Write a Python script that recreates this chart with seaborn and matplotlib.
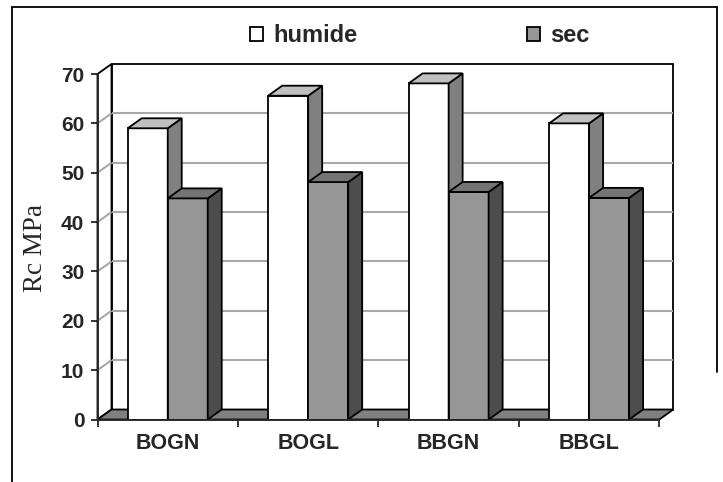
import numpy as np
import pandas as pd
import matplotlib
matplotlib.use("Agg")
import matplotlib.pyplot as plt
from matplotlib.patches import Polygon, Rectangle
from matplotlib.lines import Line2D
import seaborn as sns

# ---- data ----
categories = ["BOGN", "BOGL", "BBGN", "BBGL"]
humide = [59.0, 65.6, 68.1, 60.0]
sec = [44.8, 48.1, 46.1, 44.9]
series_names = ["humide", "sec"]
y_ticks = [0, 10, 20, 30, 40, 50, 60, 70]
y_label = "Rc MPa"

sns.set_style("white")
plt.rcParams["font.family"] = ["Liberation Sans", "DejaVu Sans"]

W, H = 723, 482
fig = plt.figure(figsize=(W / 100, H / 100), dpi=100)

# pixel layout
x0_px, x_front_right = 97.5, 659.3
dx_px, dy_px = 14.0, 10.0
y0_px, y70_px = 419.5, 74.0
left = x0_px / W
right = (x_front_right + dx_px) / W
bottom = (H - y0_px) / H
top = (H - (y70_px - dy_px)) / H
ax = fig.add_axes([left, bottom, right - left, top - bottom])

ymax = y_ticks[-1]
px_per_cat = (x_front_right - x0_px) / len(categories)
px_per_unit = (y0_px - y70_px) / ymax
dxd = dx_px / px_per_cat
dyd = dy_px / px_per_unit

df = pd.DataFrame({
    "cat": categories * 2,
    "val": humide + sec,
    "serie": [series_names[0]] * len(categories) + [series_names[1]] * len(categories),
})

front_cols = {"humide": "#ffffff", "sec": "#969696"}
top_cols = {"humide": "#c0c0c0", "sec": "#747474"}
side_cols = {"humide": "#808080", "sec": "#4d4d4d"}
zorders = {"humide": 3, "sec": 4}

sns.barplot(data=df, x="cat", y="val", hue="serie", order=categories,
            hue_order=series_names, palette=front_cols, edgecolor="black",
            linewidth=1.3, width=80 / px_per_cat, errorbar=None, legend=False,
            ax=ax)

bars = list(ax.patches)
n = len(categories)
ec = "black"
lw = 1.3
for i, b in enumerate(bars):
    s = series_names[i // n]
    z = zorders[s]
    b.set_zorder(z)
    bx, by = b.get_x(), b.get_y()
    bw, bh = b.get_width(), b.get_height()
    topp = Polygon([(bx, by + bh), (bx + bw, by + bh), (bx + bw + dxd, by + bh + dyd),
                    (bx + dxd, by + bh + dyd)], closed=True, facecolor=top_cols[s],
                   edgecolor=ec, linewidth=lw, zorder=z, clip_on=False, joinstyle="miter")
    side = Polygon([(bx + bw, by), (bx + bw + dxd, by + dyd), (bx + bw + dxd, by + bh + dyd),
                    (bx + bw, by + bh)], closed=True, facecolor=side_cols[s],
                   edgecolor=ec, linewidth=lw, zorder=z, clip_on=False, joinstyle="miter")
    ax.add_patch(side)
    ax.add_patch(topp)

xl, xr = -0.5, n - 0.5
# back wall
ax.add_patch(Rectangle((xl + dxd, dyd), xr - xl, ymax, facecolor="white",
                       edgecolor="black", linewidth=1.3, zorder=0.5, clip_on=False))
# side wall
ax.add_patch(Polygon([(xl, 0), (xl + dxd, dyd), (xl + dxd, ymax + dyd), (xl, ymax)],
                     closed=True, facecolor="white", edgecolor="black", linewidth=1.3,
                     zorder=0.6, clip_on=False))
# gridlines
for v in y_ticks[1:-1]:
    ax.plot([xl + dxd, xr + dxd], [v + dyd, v + dyd], color="#a8a8a8", lw=1.5,
            zorder=0.7, clip_on=False, solid_capstyle="butt")
    ax.plot([xl, xl + dxd], [v, v + dyd], color="#a8a8a8", lw=1.5,
            zorder=0.7, clip_on=False, solid_capstyle="butt")
# floor
ax.add_patch(Polygon([(xl, 0), (xr, 0), (xr + dxd, dyd), (xl + dxd, dyd)],
                     closed=True, facecolor="#808080", edgecolor="black", linewidth=1.3,
                     zorder=1, clip_on=False))

ax.set_xlim(xl, xr + dxd)
ax.set_ylim(0, ymax + dyd)

for sp in ["top", "right"]:
    ax.spines[sp].set_visible(False)
ax.spines["left"].set_bounds(0, ymax)
ax.spines["bottom"].set_bounds(xl, xr)
for sp in ["left", "bottom"]:
    ax.spines[sp].set_linewidth(1.3)
    ax.spines[sp].set_zorder(5)

ax.set_yticks(y_ticks)
ax.set_yticklabels([str(t) for t in y_ticks], fontsize=15, fontweight="bold")
ax.set_xticks(range(n))
ax.set_xticklabels(categories, fontsize=15.5, fontweight="bold")
ax.set_xticks(np.arange(xl, xr + 0.01, 1.0), minor=True)
ax.tick_params(axis="y", which="major", length=5, width=1.3, pad=4.5, direction="out", left=True)
ax.tick_params(axis="x", which="major", length=0, pad=10)
ax.tick_params(axis="x", which="minor", length=5, width=1.3, direction="out", bottom=True)
ax.set_xlabel("")
ax.set_ylabel("")
ax.patch.set_alpha(0)

fig.text(35 / W, 1 - 248 / H, y_label, rotation=90, ha="center", va="center",
         fontsize=19.5, family=["Liberation Serif", "DejaVu Serif"])

# legend
handles = [Rectangle((0, 0), 1, 1, facecolor=front_cols[s], edgecolor="black", linewidth=1.3)
           for s in series_names]
leg = fig.legend(handles, series_names, loc="center left",
                 bbox_to_anchor=(250 / W, 1 - 36 / H), ncol=2, frameon=False,
                 prop={"weight": "bold", "size": 17}, handlelength=0.55, handleheight=0.55,
                 handletextpad=0.42, columnspacing=7.2, borderpad=0, borderaxespad=0)

# outer frame
fig.add_artist(Line2D([12 / W, 12 / W], [0, 1 - 7 / H], color="black", lw=1.3))
fig.add_artist(Line2D([12 / W, 717 / W], [1 - 7 / H, 1 - 7 / H], color="black", lw=1.3))
fig.add_artist(Line2D([717 / W, 717 / W], [1 - 7 / H, 1 - 372 / H], color="black", lw=1.3))

fig.savefig("out.png", dpi=100)
